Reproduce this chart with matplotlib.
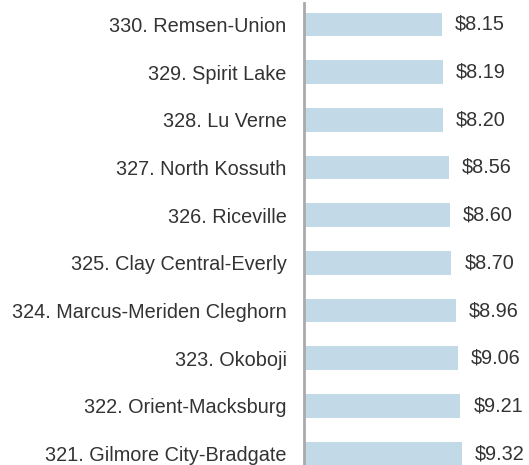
import matplotlib
matplotlib.use("Agg")
import matplotlib.pyplot as plt

districts = [
    "330. Remsen-Union",
    "329. Spirit Lake",
    "328. Lu Verne",
    "327. North Kossuth",
    "326. Riceville",
    "325. Clay Central-Everly",
    "324. Marcus-Meriden Cleghorn",
    "323. Okoboji",
    "322. Orient-Macksburg",
    "321. Gilmore City-Bradgate",
]
values = [8.15, 8.19, 8.20, 8.56, 8.60, 8.70, 8.96, 9.06, 9.21, 9.32]

plt.rcParams["font.family"] = ["Liberation Sans", "DejaVu Sans"]

W, H = 529, 465
fig = plt.figure(figsize=(W / 100, H / 100), dpi=100)
ax_left, ax_top = 303.5, 3
ax = fig.add_axes([ax_left / W, 0, (W - ax_left) / W, (H - ax_top) / H])

px_unit = 17.0
fs = 14.3
y = list(range(len(districts)))
ax.barh(y, values, height=0.5, color="#c2d9e8", left=0)

for yi, v in zip(y, values):
    ax.annotate(f"${v:.2f}", (v, yi), xytext=(9.5, 0), textcoords="offset points",
                va="center", ha="left", fontsize=fs, color="#333333")

step = 47.67
ax.set_ylim(9 + 11.5 / step, -(24.5 - ax_top) / step)
ax.set_xlim(0, (W - ax_left) / px_unit)

ax.set_yticks(y)
ax.set_yticklabels(districts, fontsize=fs, color="#333333")
ax.tick_params(axis="y", length=0, pad=12.2)
ax.set_xticks([])

for s in ["top", "right", "bottom"]:
    ax.spines[s].set_visible(False)
ax.spines["left"].set_color("#aaaaaa")
ax.spines["left"].set_linewidth(2)

fig.savefig("out.png", dpi=100)
